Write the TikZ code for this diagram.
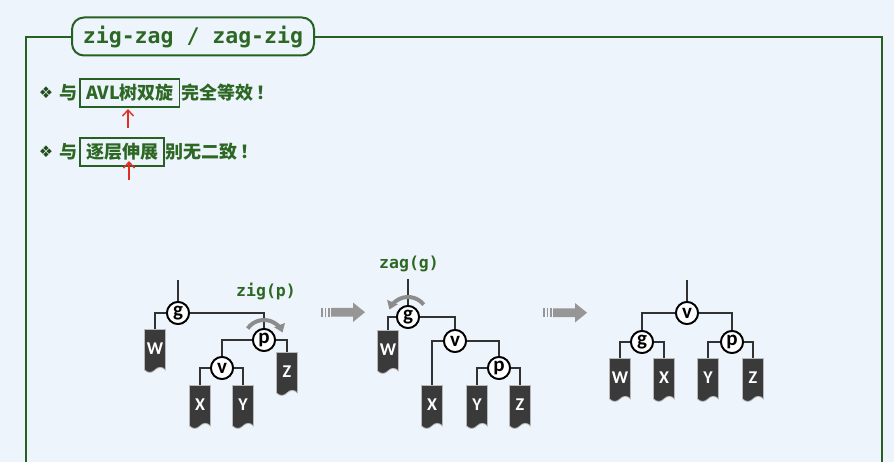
\documentclass[tikz,border=0pt]{standalone}
\usepackage{fontspec}
\usetikzlibrary{shapes.symbols,arrows.meta}
\newfontfamily\cjkfont{Noto Sans CJK SC}
\newfontfamily\monofont{DejaVu Sans Mono}
\newfontfamily\leaffont{Carlito}
\newfontfamily\symfont{DejaVu Sans}
\definecolor{bgc}{RGB}{238,244,251}
\definecolor{framegreen}{RGB}{38,96,34}
\definecolor{textgreen}{RGB}{44,104,36}
\definecolor{leafc}{RGB}{58,58,58}
\definecolor{linec}{RGB}{50,50,50}
\definecolor{rotc}{RGB}{140,140,140}
\definecolor{arrc}{RGB}{150,150,150}
\definecolor{redc}{RGB}{225,45,35}
\tikzset{
  cjk/.style={inner sep=0pt, text=textgreen, font=\cjkfont\bfseries\fontsize{18}{20}\selectfont},
  hbox/.style={cjk, draw=framegreen, line width=1.2pt, inner xsep=6pt, minimum height=28pt},
  tnode/.style={circle, draw=black, line width=1.8pt, fill=white, minimum size=22pt, inner sep=0pt,
    font=\leaffont\bfseries\fontsize{21}{21}\selectfont},
  leaf/.style={tape, tape bend top=none, tape bend height=5pt, fill=leafc, draw=gray!55, line width=0.8pt,
    minimum width=21pt, minimum height=43pt, inner sep=0pt, anchor=north, text=white,
    font=\leaffont\bfseries\fontsize{18}{18}\selectfont},
  edge/.style={draw=linec, line width=2.8pt},
  rot/.style={draw=rotc, line width=4pt, -{Triangle[length=8pt,width=11pt]}},
  oplabel/.style={text=textgreen, font=\monofont\bfseries\fontsize{16.5}{17}\selectfont},
  redarrow/.style={draw=redc, line width=1.4pt, -{Straight Barb[length=6pt,width=11pt]}},
  bul/.style={inner sep=0pt, text=textgreen!75!black, font=\symfont\fontsize{16}{16}\selectfont},
}
\begin{document}
\begin{tikzpicture}[x=1pt,y=-1pt]
\fill[bgc] (0,0) rectangle (894,462);
\useasboundingbox (0,0) rectangle (894,462);
% frame
\draw[framegreen, line width=2pt] (26,462) -- (26,37) -- (72,37);
\draw[framegreen, line width=2pt] (314,37) -- (882,37) -- (882,462);
\node[draw=framegreen, line width=2pt, rounded corners=12pt, minimum width=242pt, minimum height=38pt,
      fill=bgc, inner sep=0pt, text=textgreen, font=\monofont\bfseries\fontsize{21.5}{22}\selectfont]
      (title) at (193,36.5) {zig-zag / zag-zig};
% bullet lines
\node[bul] (b1) at (46,93) {❖};
\node[cjk, anchor=west] (yu1) at (59,93) {与};
\node[hbox, anchor=west] (box1) at ([xshift=2pt]yu1.east) {AVL树双旋};
\node[cjk, anchor=west] (t1) at ([xshift=1pt]box1.east) {完全等效\,！};
\node[bul] (b2) at (46,152) {❖};
\node[cjk, anchor=west] (yu2) at (59,152) {与};
\node[hbox, anchor=west] (box2) at ([xshift=2pt]yu2.east) {逐层伸展};
\node[cjk, anchor=west] (t2) at ([xshift=1pt]box2.east) {别无二致\,！};
\coordinate (ra1) at (128,128); \coordinate (ra1e) at (128,109);
\coordinate (ra2) at (129,180); \coordinate (ra2e) at (129,161);
\draw[redarrow] (ra1) -- (ra1e);
\draw[redarrow] (ra2) -- (ra2e);
% ---------- tree 1 ----------
\coordinate (r1) at (178,280);
\node[tnode] (g1) at (178,313) {g};
\node[tnode] (p1) at (264,340) {p};
\node[tnode] (v1) at (222,368) {v};
\node[leaf] (W1) at (155,329) {W};
\node[leaf] (X1) at (200,385) {X};
\node[leaf] (Y1) at (243,385) {Y};
\node[leaf] (Z1) at (287,352) {Z};
\draw[edge] (r1) -- (g1.north);
\draw[edge] (g1.west) -| (W1.north);
\draw[edge] (g1.east) -| (p1.north);
\draw[edge] (p1.west) -| (v1.north);
\draw[edge] (p1.east) -| (Z1.north);
\draw[edge] (v1.west) -| (X1.north);
\draw[edge] (v1.east) -| (Y1.north);
\node[tnode] at (g1) {g};
\node[tnode] at (p1) {p};
\node[tnode] at (v1) {v};
\draw[rot] ([shift={(-145:20)}]p1.center) arc[start angle=-145, end angle=-22, radius=20];
\node[oplabel] (op1) at (266,292) {zig(p)};
% arrow 1
\foreach \xx in {322,325.5,329}{\fill[arrc] (\xx-0.8,308) rectangle (\xx+0.8,316.5);}
\fill[arrc] (331,308) -- (353,308) -- (353,302.5) -- (365,312.2) -- (353,322) -- (353,316.5) -- (331,316.5) -- cycle;
% ---------- tree 2 ----------
\coordinate (r2) at (408,279);
\node[tnode] (g2) at (408,317) {g};
\node[tnode] (v2) at (455,341) {v};
\node[tnode] (p2) at (499,368) {p};
\node[leaf] (W2) at (388,330) {W};
\node[leaf] (X2) at (432,385) {X};
\node[leaf] (Y2) at (477,385) {Y};
\node[leaf] (Z2) at (520,385) {Z};
\draw[edge] (r2) -- (g2.north);
\draw[edge] (g2.west) -| (W2.north);
\draw[edge] (g2.east) -| (v2.north);
\draw[edge] (v2.west) -| (X2.north);
\draw[edge] (v2.east) -| (p2.north);
\draw[edge] (p2.west) -| (Y2.north);
\draw[edge] (p2.east) -| (Z2.north);
\node[tnode] at (g2) {g};
\node[tnode] at (v2) {v};
\node[tnode] at (p2) {p};
\draw[rot] ([shift={(-38:20)}]g2.center) arc[start angle=-38, end angle=-158, radius=20];
\node[oplabel] (op2) at (409,264) {zag(g)};
% arrow 2
\foreach \xx in {544,547.5,551}{\fill[arrc] (\xx-0.8,308.5) rectangle (\xx+0.8,317);}
\fill[arrc] (553,308.5) -- (575,308.5) -- (575,303) -- (587,312.7) -- (575,322.5) -- (575,317) -- (553,317) -- cycle;
% ---------- tree 3 ----------
\coordinate (r3) at (687,280);
\node[tnode] (v3) at (687,313) {v};
\node[tnode] (g3) at (642,342) {g};
\node[tnode] (p3) at (732,342) {p};
\node[leaf] (W3) at (620,358) {W};
\node[leaf] (X3) at (664,358) {X};
\node[leaf] (Y3) at (708,358) {Y};
\node[leaf] (Z3) at (753,358) {Z};
\draw[edge] (r3) -- (v3.north);
\draw[edge] (v3.west) -| (g3.north);
\draw[edge] (v3.east) -| (p3.north);
\draw[edge] (g3.west) -| (W3.north);
\draw[edge] (g3.east) -| (X3.north);
\draw[edge] (p3.west) -| (Y3.north);
\draw[edge] (p3.east) -| (Z3.north);
\node[tnode] at (v3) {v};
\node[tnode] at (g3) {g};
\node[tnode] at (p3) {p};
\end{tikzpicture}
\end{document}
